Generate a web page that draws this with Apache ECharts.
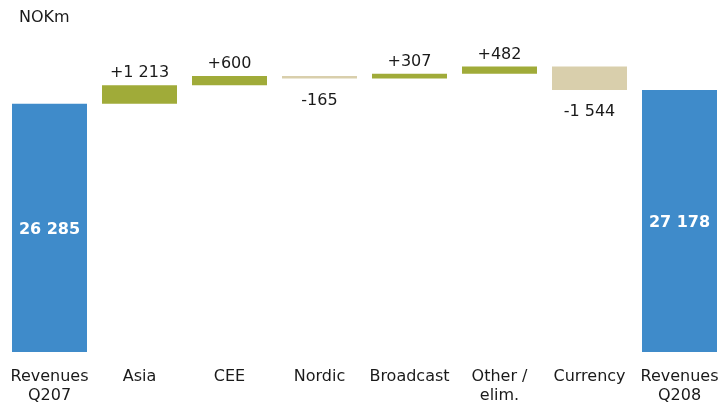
<!DOCTYPE html>
<html>
<head>
<meta charset="utf-8">
<script src="https://cdn.jsdelivr.net/npm/echarts@6/dist/echarts.min.js"></script>
<style>
  html, body { margin: 0; padding: 0; background: #fff; }
  #chart { width: 722px; height: 407px; }
</style>
</head>
<body>
<div id="chart"></div>
<script>
// 类目与数据
const categories = ["Revenues\nQ207", "Asia", "CEE", "Nordic", "Broadcast", "Other /\nelim.", "Currency", "Revenues\nQ208"];
const values = [26285, 1213, 600, -165, 307, 482, -1544, 27178];
const isTotal = [true, false, false, false, false, false, false, true];

const BLUE = "#3f8bca";
const GREEN = "#a0ab39";
const TAN = "#d9cfac";
const FONT = "DejaVu Sans";

function fmt(v) {
  const s = String(Math.abs(v)).replace(/\B(?=(\d{3})+(?!\d))/g, " ");
  return v < 0 ? "-" + s : s;
}

// 计算瀑布图的基础（透明）部分和可见部分
const baseData = [];
const barData = [];
let running = 0;
values.forEach((v, i) => {
  if (isTotal[i]) {
    running = v;
    baseData.push(0);
    barData.push({
      value: v,
      itemStyle: { color: BLUE },
      label: {
        show: true,
        position: "inside",
        offset: [0, 2],
        color: "#ffffff",
        fontWeight: "bold",
        fontSize: 16,
        fontFamily: FONT,
        formatter: fmt(v),
      },
    });
  } else {
    const start = running;
    running += v;
    baseData.push(Math.min(start, running));
    barData.push({
      value: Math.abs(v),
      itemStyle: { color: v >= 0 ? GREEN : TAN },
      label: {
        show: true,
        position: v >= 0 ? "top" : "bottom",
        distance: v >= 0 ? 4 : 14,
        color: "#1a1a1a",
        fontSize: 16,
        fontFamily: FONT,
        formatter: (v >= 0 ? "+" : "") + fmt(v),
      },
    });
  }
});

const chart = echarts.init(document.getElementById("chart"));
chart.setOption({
  animation: false,
  title: {
    text: "NOKm",
    left: 14,
    top: 5,
    textStyle: { fontFamily: FONT, fontSize: 16, fontWeight: "normal", color: "#1a1a1a" },
  },
  grid: { left: 4.5, width: 720, top: 47, bottom: 55, containLabel: false, outerBoundsMode: "none" },
  xAxis: {
    type: "category",
    data: categories,
    axisLine: { show: false },
    axisTick: { show: false },
    axisLabel: {
      interval: 0,
      margin: 15,
      color: "#1a1a1a",
      fontSize: 16,
      lineHeight: 19,
      fontFamily: FONT,
    },
  },
  yAxis: {
    type: "value",
    min: 10000,
    max: 30000,
    show: false,
    splitLine: { show: false },
  },
  series: [
    {
      type: "bar",
      stack: "w",
      data: baseData,
      barWidth: 75,
      itemStyle: { color: "transparent" },
      silent: true,
    },
    {
      type: "bar",
      stack: "w",
      data: barData,
      barWidth: 75,
    },
  ],
});
</script>
</body>
</html>
